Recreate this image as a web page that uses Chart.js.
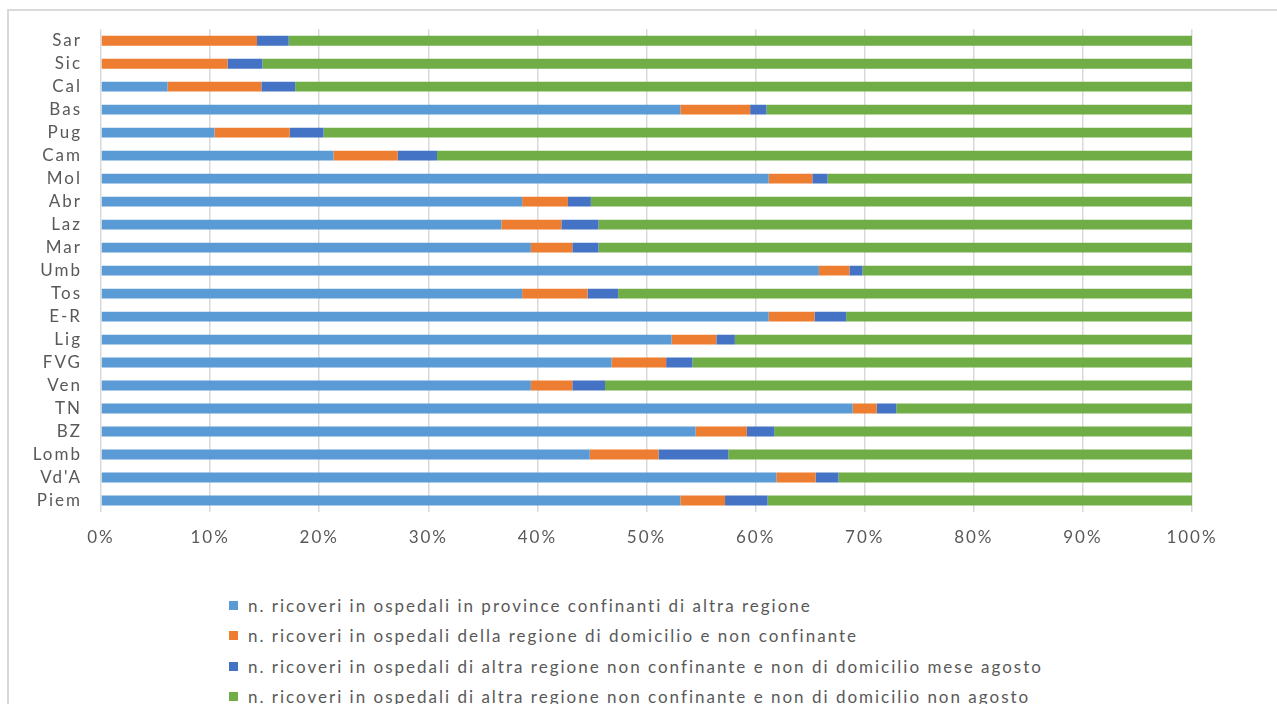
<!DOCTYPE html>
<html>
<head>
<meta charset="utf-8">
<script src="https://cdn.jsdelivr.net/npm/chart.js@4/dist/chart.umd.min.js"></script>
<style>
    body { margin: 0; background: #fff; overflow: hidden; font-family: Lato, "Open Sans", sans-serif; }
    #frame {
        position: absolute; left: 7px; top: 9px; width: 1300px; height: 720px;
        border-left: 2px solid #d9d9d9; border-top: 2px solid #d9d9d9;
    }
    #wrap { position: absolute; left: 0; top: 0; width: 1277px; height: 560px; }
    #legend { position: absolute; left: 229px; top: 590px; }
    .item { height: 30.5px; display: flex; align-items: center; font-size: 17px; letter-spacing: 2px; color: #595959; white-space: nowrap; }
    .box { width: 9px; height: 9px; margin-right: 10px; }
</style>
</head>
<body>
<div id="frame"></div>
<div id="wrap"><canvas id="ricoveriChart" width="1277" height="560"></canvas></div>
<div id="legend"></div>

<script>
const regioni = ["Sar", "Sic", "Cal", "Bas", "Pug", "Cam", "Mol", "Abr", "Laz", "Mar", "Umb",
    "Tos", "E-R", "Lig", "FVG", "Ven", "TN", "BZ", "Lomb", "Vd'A", "Piem"];

const confinanti = [0, 0, 6.1, 53.1, 10.4, 21.3, 61.2, 38.6, 36.7, 39.4, 65.8,
    38.6, 61.2, 52.3, 46.8, 39.4, 68.9, 54.5, 44.8, 61.9, 53.1];
const domicilio = [14.3, 11.6, 8.6, 6.4, 6.9, 5.9, 4.0, 4.2, 5.5, 3.8, 2.8,
    6.0, 4.2, 4.1, 5.0, 3.8, 2.2, 4.7, 6.3, 3.6, 4.1];
const agosto = [2.9, 3.2, 3.1, 1.5, 3.1, 3.6, 1.4, 2.1, 3.4, 2.4, 1.2,
    2.8, 2.9, 1.7, 2.4, 3.0, 1.8, 2.5, 6.4, 2.1, 3.9];
const nonAgosto = [82.8, 85.2, 82.2, 39.0, 79.6, 69.2, 33.4, 55.1, 54.4, 54.4, 30.2,
    52.6, 31.7, 41.9, 45.8, 53.8, 27.1, 38.3, 42.5, 32.4, 38.9];

const serie = [
    "n. ricoveri in ospedali in province confinanti di altra regione",
    "n. ricoveri in ospedali della regione di domicilio e non confinante",
    "n. ricoveri in ospedali di altra regione non confinante e non di domicilio mese agosto",
    "n. ricoveri in ospedali di altra regione non confinante e non di domicilio non agosto"
];
const colori = ["#5b9bd5", "#ed7d31", "#4472c4", "#70ad47"];
const valori = [confinanti, domicilio, agosto, nonAgosto];

const grigio = "#595959";

// testo degli assi un po' spaziato
const spaziatura = {
    id: "spaziatura",
    beforeDraw(chart) {
        chart.ctx.letterSpacing = "2px";
    }
};

new Chart(ricoveriChart, {
    type: "bar",
    data: {
        labels: regioni,
        datasets: serie.map((s, i) => ({
            label: s,
            data: valori[i],
            backgroundColor: colori[i],
            borderWidth: 0,
            categoryPercentage: 1,
            barPercentage: 0.43
        }))
    },
    options: {
        indexAxis: "y",
        responsive: false,
        animation: false,
        layout: { padding: { top: 29, left: 0, right: 85, bottom: 0 } },
        plugins: {
            legend: { display: false },
            tooltip: { enabled: false }
        },
        scales: {
            x: {
                stacked: true,
                min: 0,
                max: 100,
                ticks: {
                    stepSize: 10,
                    color: grigio,
                    padding: 15,
                    font: { family: "Lato", size: 17 },
                    callback: v => v + "%"
                },
                grid: { color: "#d9d9d9", lineWidth: 1.5, drawTicks: false },
                border: { display: false },
                afterFit: s => { s.height = 48; }
            },
            y: {
                stacked: true,
                ticks: {
                    color: grigio,
                    padding: 19,
                    autoSkip: false,
                    font: { family: "Lato", size: 17 }
                },
                grid: { display: false, drawTicks: false },
                border: { display: false },
                afterFit: s => { s.width = 101; }
            }
        }
    },
    plugins: [spaziatura]
});

// legenda su righe separate
serie.forEach((s, i) => {
    legend.innerHTML +=
        "<div class='item'><span class='box' style='background:" + colori[i] + "'></span>" + s + "</div>";
});
</script>
</body>
</html>
